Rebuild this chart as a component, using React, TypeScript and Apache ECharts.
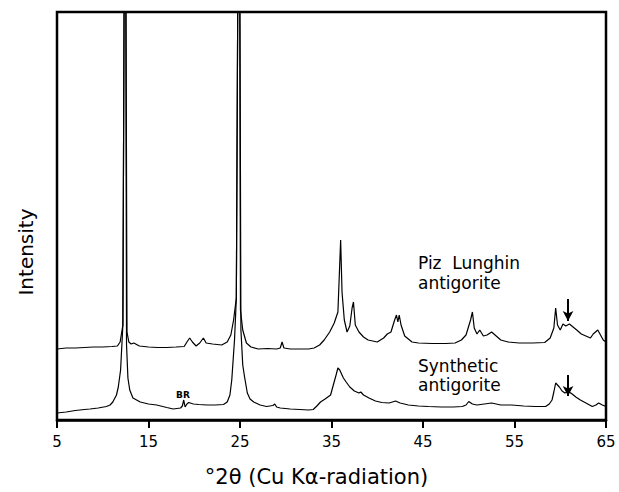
import React, { useEffect, useRef } from "react";
import * as echarts from "echarts";

const xTicks = [5, 15, 25, 35, 45, 55, 65];

// [2θ (degrees), relative intensity] — Piz Lunghin antigorite (upper trace)
const pizLunghin: [number, number][] = [
  [5.0, 71], [6, 72], [7, 72], [8, 72.5], [9, 73], [10, 73], [11, 73.5], [11.6, 74], [11.9, 78], [12.2, 95],
  [12.45, 700], [12.65, 88], [12.85, 78], [13.1, 76], [13.4, 77], [13.6, 76], [14, 74], [15, 73], [16, 72.5],
  [17, 72.5], [18, 73], [18.9, 73.5], [19.2, 78], [19.5, 82], [19.8, 78], [20.2, 74], [20.6, 77], [21.0, 82],
  [21.3, 77], [22, 76], [23, 75], [23.6, 78], [24.0, 85], [24.3, 100], [24.6, 122], [24.9, 700], [25.05, 110],
  [25.3, 90], [25.7, 77], [26.2, 73], [27, 71], [28, 71.5], [29, 71], [29.4, 72], [29.6, 78], [29.8, 72],
  [30.5, 71], [31.5, 71], [32.5, 71], [33.1, 72], [33.7, 75], [34.2, 80], [34.8, 88], [35.3, 97], [35.7, 108],
  [36.0, 180], [36.15, 128], [36.4, 100], [36.7, 88], [37.0, 94], [37.25, 112], [37.4, 118], [37.6, 95],
  [38.0, 88], [38.5, 83], [39.0, 80], [40.0, 78], [40.7, 82], [41.1, 86], [41.5, 88], [41.9, 100], [42.1, 105],
  [42.25, 98], [42.4, 105], [42.6, 95], [43.0, 84], [43.8, 78], [44.5, 77], [46, 76.5], [47.5, 76.5], [48.5, 77],
  [49.2, 80], [49.7, 85], [50.2, 100], [50.4, 108], [50.6, 92], [50.9, 86], [51.2, 90], [51.6, 84], [52.0, 85],
  [52.5, 88], [53.0, 84], [53.5, 80], [54.3, 78], [55.5, 77], [57, 77], [58.3, 77.5], [58.9, 82], [59.3, 92],
  [59.5, 112], [59.7, 95], [60.0, 90], [60.3, 96], [60.6, 94], [61.0, 96], [61.4, 93], [61.8, 90], [62.3, 86],
  [62.8, 84], [63.3, 82], [63.6, 86], [64.1, 90], [64.4, 85], [64.7, 80], [65, 78],
];

// [2θ (degrees), relative intensity] — Synthetic antigorite (lower trace)
const synthetic: [number, number][] = [
  [5.0, 7], [6, 8], [7, 9.5], [8, 10.5], [8.6, 11], [9.5, 12], [10.4, 13.5], [10.8, 15], [11.1, 18], [11.5, 25],
  [11.7, 33], [11.95, 50], [12.2, 95], [12.45, 700], [12.6, 75], [12.75, 42], [12.95, 30], [13.3, 22], [14.1, 18],
  [15, 16], [15.9, 15], [17, 12.5], [17.7, 11], [18.5, 12], [18.7, 14], [18.85, 20], [19.0, 13], [19.2, 16],
  [19.4, 17.5], [19.9, 16], [20.5, 15.5], [21.4, 15], [22.3, 15], [23.2, 15.5], [23.6, 18], [23.9, 25],
  [24.1, 40], [24.4, 80], [24.6, 122], [24.9, 700], [25.1, 90], [25.3, 55], [25.5, 43], [25.8, 27], [26.1, 21],
  [26.5, 18], [27.2, 15], [27.9, 13.5], [28.6, 14.5], [28.8, 16], [29.0, 13], [29.4, 12], [30.5, 11], [31.5, 10.5],
  [32.5, 10], [33.0, 10.5], [33.4, 14], [33.8, 18], [34.3, 21], [34.9, 25], [35.2, 35], [35.5, 45], [35.7, 52],
  [35.9, 50], [36.3, 42], [36.6, 38], [37.0, 33], [37.5, 29], [38.0, 27], [38.2, 28], [38.5, 25], [39.1, 22],
  [39.8, 19], [40.5, 17.5], [41.3, 17], [42.0, 19], [42.5, 17], [43.4, 15], [44.5, 14], [45.6, 13.5], [47, 13],
  [48.3, 13], [49.3, 13.5], [49.7, 15], [50.0, 18.5], [50.4, 16], [50.9, 15], [51.7, 16], [52.5, 17], [53.5, 15],
  [54.7, 15], [56, 14], [57.3, 13.5], [58.4, 13.5], [58.8, 16], [59.1, 20], [59.3, 28], [59.5, 37], [59.7, 35],
  [59.9, 33], [60.2, 29], [60.5, 27], [60.9, 28.5], [61.3, 26], [61.7, 23], [62.2, 20], [62.8, 17], [63.5, 13.5],
  [63.9, 15], [64.2, 17], [64.6, 15], [65, 13.5],
];

// arrows marking the ~60.8° reflection: [x, yStart, yEnd]
const pizArrow = [60.85, 121, 99];
const synArrow = [60.85, 45, 24];

const FONT = "DejaVu Sans";

export default function App() {
  const ref = useRef<HTMLDivElement>(null);
  useEffect(() => {
    if (!ref.current) return;
    const chart = echarts.init(ref.current, null, { renderer: "svg" });
    const arrowLine = (a: number[]) => ({
      silent: true,
      symbol: ["none", "arrow"],
      symbolSize: [8, 10],
      label: { show: false },
      lineStyle: { color: "#000", width: 2, type: "solid" },
      data: [[{ coord: [a[0], a[1]] }, { coord: [a[0], a[2]] }]],
    });
    chart.setOption({
      animation: false,
      backgroundColor: "#fff",
      textStyle: { fontFamily: FONT },
      grid: {
        left: 57,
        right: 13,
        top: 12,
        bottom: 72,
        show: true,
        borderColor: "#000",
        borderWidth: 2.5,
        backgroundColor: "transparent",
      },
      xAxis: {
        type: "value",
        min: 5,
        max: 65,
        name: "°2θ (Cu Kα-radiation)",
        nameLocation: "middle",
        nameGap: 46,
        nameTextStyle: { fontSize: 21, color: "#000", fontFamily: FONT, padding: [0, 30, 0, 0] },
        axisLine: { show: true, lineStyle: { color: "#000", width: 2.5 } },
        axisTick: { show: true, customValues: xTicks, length: 8, lineStyle: { color: "#000", width: 2 } },
        axisLabel: { customValues: xTicks, fontSize: 15, color: "#000", margin: 14, fontFamily: FONT },
        splitLine: { show: false },
      },
      yAxis: {
        type: "value",
        min: 0,
        max: 408,
        axisLine: { show: false },
        axisTick: { show: false },
        axisLabel: { show: false },
        splitLine: { show: false },
      },
      series: [
        {
          name: "Piz Lunghin antigorite",
          type: "line",
          data: pizLunghin,
          showSymbol: false,
          clip: true,
          lineStyle: { color: "#000", width: 1.2 },
          markLine: arrowLine(pizArrow),
        },
        {
          name: "Synthetic antigorite",
          type: "line",
          data: synthetic,
          showSymbol: false,
          clip: true,
          lineStyle: { color: "#000", width: 1.2 },
          markLine: arrowLine(synArrow),
        },
      ],
      graphic: [
        {
          type: "text",
          x: 26,
          y: 252,
          rotation: Math.PI / 2,
          style: { text: "Intensity", fontSize: 20, fontFamily: FONT, fill: "#000", textAlign: "center", textVerticalAlign: "middle" },
        },
        {
          type: "text",
          x: 418,
          y: 263,
          style: { text: "Piz  Lunghin", fontSize: 17, fontFamily: FONT, fill: "#000", textAlign: "left", textVerticalAlign: "middle" },
        },
        {
          type: "text",
          x: 418,
          y: 283,
          style: { text: "antigorite", fontSize: 17, fontFamily: FONT, fill: "#000", textAlign: "left", textVerticalAlign: "middle" },
        },
        {
          type: "text",
          x: 418,
          y: 366,
          style: { text: "Synthetic", fontSize: 17, fontFamily: FONT, fill: "#000", textAlign: "left", textVerticalAlign: "middle" },
        },
        {
          type: "text",
          x: 418,
          y: 385,
          style: { text: "antigorite", fontSize: 17, fontFamily: FONT, fill: "#000", textAlign: "left", textVerticalAlign: "middle" },
        },
        {
          type: "text",
          x: 183,
          y: 395,
          style: { text: "BR", fontSize: 9, fontWeight: "bold", fontFamily: FONT, fill: "#000", textAlign: "center", textVerticalAlign: "middle" },
        },
      ],
    });
    return () => chart.dispose();
  }, []);
  return (
    <div
      ref={ref}
      style={{ position: "fixed", left: 0, top: 0, width: 619, height: 492, background: "#fff" }}
    />
  );
}
